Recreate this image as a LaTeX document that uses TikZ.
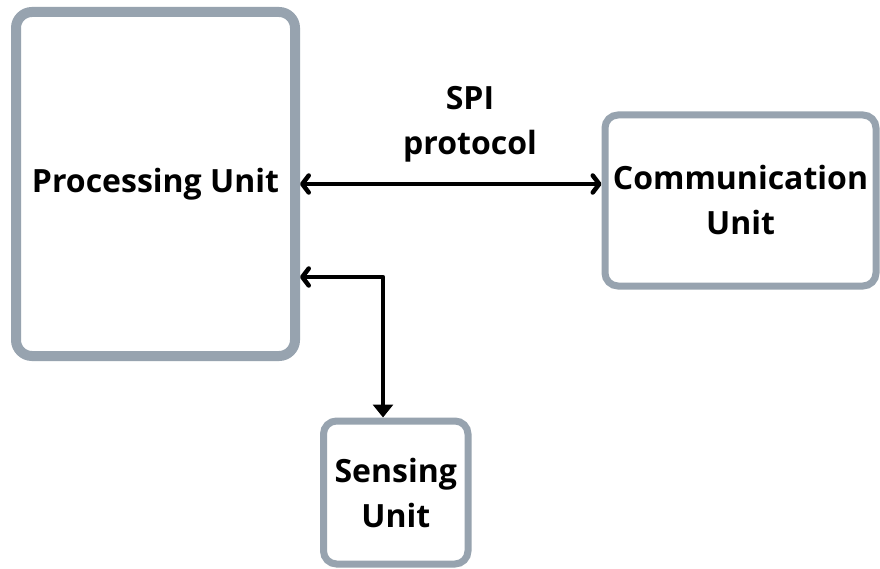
\documentclass[tikz,border=0pt]{standalone}
\usepackage{fontspec}
\setmainfont{Open Sans}
\usetikzlibrary{arrows.meta,calc}
\definecolor{boxgray}{HTML}{97A3AF}
\begin{document}
\begin{tikzpicture}[x=1pt,y=-1pt,
  unitbox/.style={draw=boxgray, fill=white, align=center, inner sep=0pt,
    font=\bfseries\fontsize{32}{45}\selectfont},
  lbl/.style={align=center, inner sep=0pt, font=\bfseries\fontsize{32}{45}\selectfont},
  barb/.tip={Straight Barb[length=6.5pt,width=17pt,line cap=round,line join=round]},
  tri/.tip={Triangle[length=13pt,width=20pt]},
  conn/.style={line width=4.5pt, black, line join=round}
]
\useasboundingbox[fill=white] (0,0) rectangle (880,569);
\node[unitbox, line width=10pt, rounded corners=16pt, minimum width=279pt, minimum height=344pt]
  (proc) at (155.5,184) {Processing Unit};
\node[unitbox, line width=7pt, rounded corners=13pt, minimum width=271pt, minimum height=171pt]
  (comm) at (740.5,200.5) {Communication\\Unit};
\node[unitbox, line width=7pt, rounded corners=13pt, minimum width=144.5pt, minimum height=143pt]
  (sens) at (395.75,492.5) {Sensing\\Unit};
\node[lbl] (spi) at (470,124) {SPI\\protocol};
\coordinate (bend) at (383,277);
\draw[conn, {barb}-{barb}] (proc.east) -- (proc.east -| comm.west);
\draw[conn, {barb}-{tri}] (proc.east |- bend) -- (bend) -- (bend |- sens.north);
\end{tikzpicture}
\end{document}
